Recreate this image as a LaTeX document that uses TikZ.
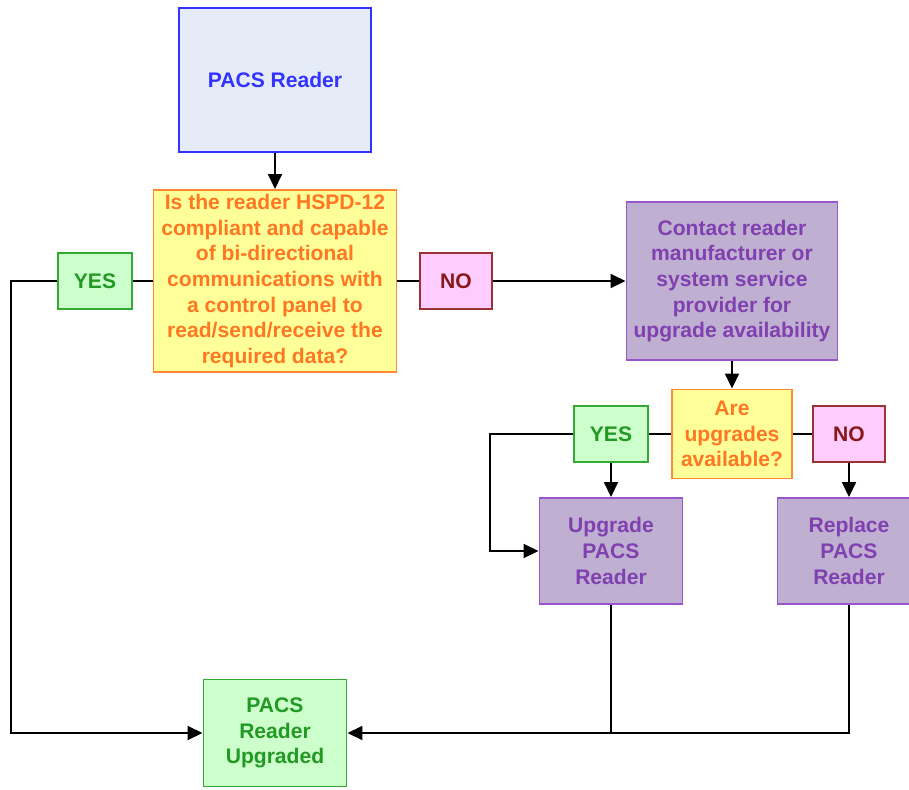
\documentclass[tikz,border=0pt]{standalone}
\usepackage{fontspec}
\setmainfont{Liberation Sans}
\usetikzlibrary{arrows.meta,positioning}

\definecolor{startfill}{HTML}{E6ECF7}
\definecolor{startline}{HTML}{3333FF}
\definecolor{askfill}{HTML}{FFFF99}
\definecolor{askline}{HTML}{FF8833}
\definecolor{asktext}{HTML}{FF7722}
\definecolor{yesfill}{HTML}{CCFFCC}
\definecolor{yesline}{HTML}{33AA33}
\definecolor{yestext}{HTML}{229922}
\definecolor{nofill}{HTML}{FFCCFF}
\definecolor{noline}{HTML}{993333}
\definecolor{notext}{HTML}{881818}
\definecolor{actfill}{HTML}{BFB0D2}
\definecolor{actline}{HTML}{9955CC}
\definecolor{acttext}{HTML}{8040B0}

\begin{document}
\begin{tikzpicture}[
        font=\fontsize{12}{14.6}\selectfont\bfseries,
        box/.style={draw, line width=1.1pt, align=center, inner sep=0pt},
        start/.style={box, draw=startline, fill=startfill, text=startline},
        ask/.style={box, draw=askline, fill=askfill, text=asktext},
        yes/.style={box, draw=yesline, fill=yesfill, text=yestext,
            minimum width=1.48cm, minimum height=1.12cm},
        no/.style={box, draw=noline, fill=nofill, text=notext,
            minimum width=1.44cm, minimum height=1.12cm},
        act/.style={box, draw=actline, fill=actfill, text=acttext},
        line/.style={draw, line width=1pt},
        arr/.style={line, -{Triangle[length=0.3cm, width=0.28cm]}}
    ]
    \useasboundingbox (0,0) rectangle (18.18,-15.78);

    \node[
        start,
        minimum width=3.84cm,
        minimum height=2.88cm
    ] (reader) at (5.5,-1.6) {PACS Reader};
    \node[
        ask,
        minimum width=4.86cm,
        minimum height=3.64cm,
        node distance=4.02cm,
        below of=reader
    ] (compliant) {Is the reader HSPD-12\\compliant and capable\\of bi-directional\\communications with\\a control panel to\\read/send/receive the\\required data?};
    \node[yes, node distance=3.6cm, left of=compliant] (yes1) {YES};
    \node[no, node distance=3.62cm, right of=compliant] (no1) {NO};
    \node[
        act,
        minimum width=4.22cm,
        minimum height=3.16cm,
        node distance=5.52cm,
        right of=no1
    ] (contact) {Contact reader\\manufacturer or\\system service\\provider for\\upgrade availability};
    \node[
        ask,
        minimum width=2.4cm,
        minimum height=1.78cm,
        node distance=3.06cm,
        below of=contact
    ] (available) {Are\\upgrades\\available?};
    \node[yes, node distance=2.42cm, left of=available] (yes2) {YES};
    \node[no, node distance=2.34cm, right of=available] (no2) {NO};
    \node[
        act,
        minimum width=2.86cm,
        minimum height=2.12cm,
        node distance=2.34cm,
        below of=yes2
    ] (upgrade) {Upgrade\\PACS\\Reader};
    \node[
        act,
        minimum width=2.86cm,
        minimum height=2.12cm,
        node distance=2.34cm,
        below of=no2
    ] (replace) {Replace\\PACS\\Reader};
    \node[
        box,
        draw=yesline,
        fill=yesfill,
        text=yestext,
        minimum width=2.86cm,
        minimum height=2.14cm,
        node distance=9.04cm,
        below of=compliant
    ] (done) {PACS\\Reader\\Upgraded};

    % first question
    \draw[arr] (reader) -- (compliant);
    \draw[line] (compliant) -- (yes1);
    \draw[arr] (yes1.west) -- ++(-0.92,0) |- (done.west);
    \draw[line] (compliant) -- (no1);
    \draw[arr] (no1) -- (contact);

    % second question
    \draw[arr] (contact) -- (available);
    \draw[line] (available) -- (yes2);
    \draw[line] (available) -- (no2);
    \draw[arr] (yes2) -- (upgrade);
    \draw[arr] (yes2.west) -- ++(-1.66,0) |- (upgrade.west);
    \draw[arr] (no2) -- (replace);

    % back to the result
    \draw[line] (upgrade.south) -- (upgrade.south |- done.east);
    \draw[arr] (replace.south) |- (done.east);
\end{tikzpicture}
\end{document}
